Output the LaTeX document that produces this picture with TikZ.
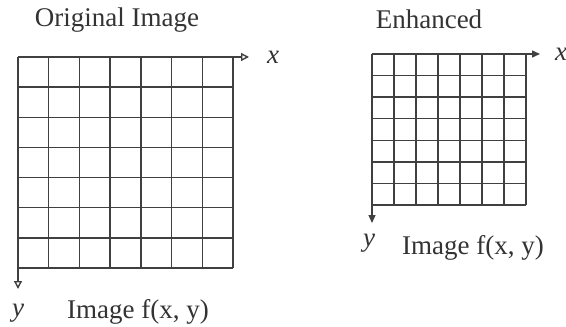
\documentclass[tikz,border=0pt]{standalone}
\usepackage{fontspec}
\setmainfont{Liberation Serif}
\usetikzlibrary{arrows.meta}

\tikzset{
  gridline/.style={draw=black!75, line width=0.7pt},
  axisopen/.style={draw=black!75, line width=0.7pt, -{Triangle[open,length=4pt,width=4pt]}},
  axisfull/.style={draw=black!75, line width=0.7pt, -{Triangle[length=4pt,width=3.5pt]}},
  caption/.style={font=\fontsize{13.5}{16}\selectfont, text=black!80, inner sep=0pt},
  axislabel/.style={font=\fontsize{13.5}{16}\selectfont\itshape, text=black!80, inner sep=0pt}
}

\begin{document}
\begin{tikzpicture}[x=0.5pt, y=-0.5pt]
  \useasboundingbox (0,0) rectangle (566,326);

  % original image grid
  \coordinate (origA) at (18,57);
  \coordinate (xtipA) at (249,57);
  \coordinate (ytipA) at (18,289);
  \foreach \i in {0,...,7} {
    \draw[gridline] ({18+\i*215/7},57) -- ({18+\i*215/7},268);
    \draw[gridline] (18,{57+\i*211/7}) -- (233,{57+\i*211/7});
  }
  \draw[axisopen] (origA) -- (xtipA);
  \draw[axisopen] (origA) -- (ytipA);
  \node[caption] (titleA) at (117,20) {Original Image};
  \node[axislabel] (xlabA) at (273,57) {x};
  \node[axislabel] (ylabA) at (18,313) {y};
  \node[caption] (funcA) at (138,312) {Image f(x, y)};

  % enhanced grid
  \coordinate (origB) at (372,54);
  \coordinate (xtipB) at (540,54);
  \coordinate (ytipB) at (372,223);
  \foreach \i in {0,...,7} {
    \draw[gridline] ({372+\i*154/7},54) -- ({372+\i*154/7},205);
    \draw[gridline] (372,{54+\i*151/7}) -- (526,{54+\i*151/7});
  }
  \draw[axisfull] (origB) -- (xtipB);
  \draw[axisfull] (origB) -- (ytipB);
  \node[caption] (titleB) at (429,19) {Enhanced};
  \node[axislabel] (xlabB) at (561,54) {x};
  \node[axislabel] (ylabB) at (369,243) {y};
  \node[caption] (funcB) at (473,248) {Image f(x, y)};
\end{tikzpicture}
\end{document}
